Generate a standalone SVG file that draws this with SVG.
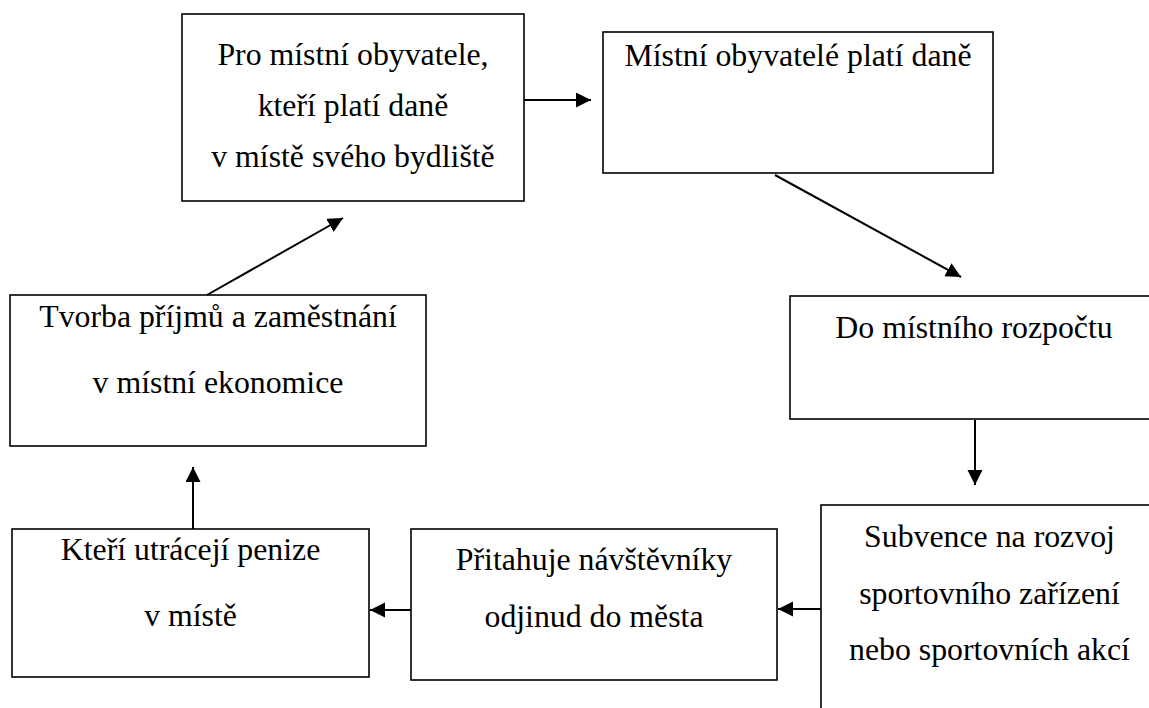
<svg xmlns="http://www.w3.org/2000/svg" width="1149" height="708" viewBox="0 0 1149 708">
<style>
.box{fill:#fff;stroke:#000;stroke-width:1.6}
text{font-family:'Liberation Serif','Times New Roman',Times,serif;font-size:31.8px;fill:#000;text-anchor:middle}
.c{stroke:#000;stroke-width:2;fill:none;marker-end:url(#ah)}
</style>
<defs>
<marker id="ah" markerUnits="userSpaceOnUse" markerWidth="16" markerHeight="16" refX="15" refY="7.5" orient="auto">
<path d="M0,0 L15,7.5 L0,15 z" fill="#000"/>
</marker>
</defs>
<rect width="1149" height="708" fill="#fff"/>
<g font-family="Liberation Serif, Times New Roman, serif" font-size="31.8" text-anchor="middle">
<g id="n1"><rect class="box" x="182" y="14" width="342" height="187"/>
<text x="353" y="65">Pro místní obyvatele,</text>
<text x="353" y="116">kteří platí daně</text>
<text x="353" y="167">v místě svého bydliště</text></g>
<g id="n2"><rect class="box" x="603" y="32" width="390" height="141"/>
<text x="798" y="65.5">Místní obyvatelé platí daně</text></g>
<g id="n3"><rect class="box" x="790" y="296" width="368" height="123"/>
<text x="974" y="338">Do místního rozpočtu</text></g>
<g id="n4"><rect class="box" x="821" y="505" width="337" height="220"/>
<text x="989.5" y="547">Subvence na rozvoj</text>
<text x="989.5" y="603.5">sportovního zařízení</text>
<text x="989.5" y="660">nebo sportovních akcí</text></g>
<g id="n5"><rect class="box" x="411" y="529" width="366" height="151"/>
<text x="594" y="570">Přitahuje návštěvníky</text>
<text x="594" y="626.5">odjinud do města</text></g>
<g id="n6"><rect class="box" x="12" y="529" width="357" height="148"/>
<text x="190.5" y="560">Kteří utrácejí penize</text>
<text x="190.5" y="625.5">v místě</text></g>
<g id="n7"><rect class="box" x="10" y="295" width="416" height="151"/>
<text x="218" y="326.5">Tvorba příjmů a zaměstnání</text>
<text x="218" y="392.5">v místní ekonomice</text></g>
</g>
<g id="connectors">
<line class="c" x1="524" y1="100" x2="591" y2="100"/>
<line class="c" x1="775" y1="175" x2="961" y2="277"/>
<line class="c" x1="975" y1="420" x2="975" y2="485"/>
<line class="c" x1="821" y1="609" x2="778" y2="609"/>
<line class="c" x1="411" y1="610" x2="370" y2="610"/>
<line class="c" x1="193" y1="529" x2="193" y2="467"/>
<line class="c" x1="207" y1="295" x2="343" y2="218"/>
</g>
</svg>
